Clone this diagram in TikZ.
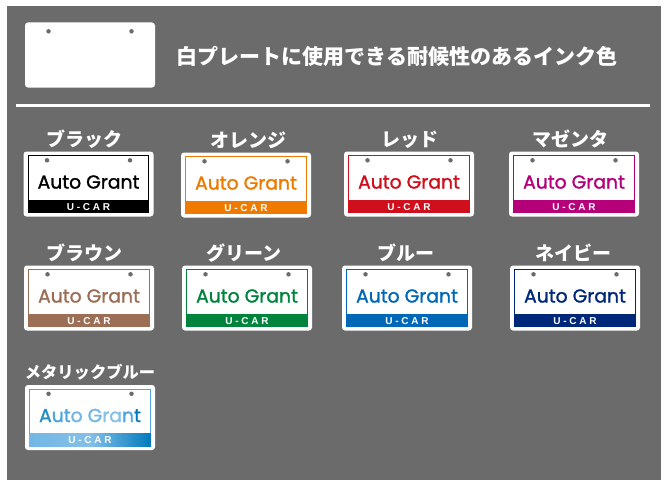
\documentclass[tikz,border=0pt]{standalone}
\usepackage{fontspec}
\usetikzlibrary{positioning}
\setmainfont{Noto Sans CJK JP}
\newfontfamily\brandfont[FakeBold=1.3]{Poppins}
\newfontfamily\barfont[LetterSpace=28]{Liberation Sans}
\definecolor{panelgray}{HTML}{6B6B6B}
\definecolor{pblack}{HTML}{000000}
\definecolor{porange}{HTML}{EF7A00}
\definecolor{pred}{HTML}{D00F1D}
\definecolor{pmagenta}{HTML}{B5007A}
\definecolor{pbrown}{HTML}{9B6E55}
\definecolor{pgreen}{HTML}{00843D}
\definecolor{pblue}{HTML}{0068B7}
\definecolor{pnavy}{HTML}{00287A}
\definecolor{pmetal}{HTML}{4FA5DE}
\definecolor{pmetaldark}{HTML}{0079BC}
\tikzset{
	plate/.style={fill=white, rounded corners=3pt, minimum width=130pt, minimum height=65pt, inner sep=0pt},
	frame/.style={line width=1pt, fill=white, minimum width=120.5pt, minimum height=57pt, inner sep=0pt},
	bar/.style={minimum width=121.5pt, minimum height=13pt, inner sep=0pt, text=white, font=\barfont\bfseries\fontsize{10}{10}\selectfont},
	brand/.style={inner sep=0pt, font=\brandfont\fontsize{18.8}{20}\selectfont},
	hole/.style={circle, inner sep=0pt, minimum size=4.5pt, fill=panelgray},
	colname/.style={inner sep=0pt, text=white, font=\bfseries\fontsize{19}{19}\selectfont}
}
% name, x, y, colour, label, shift of label
\newcommand{\plate}[6]{
	\node[plate] (#1) at (#2,#3) {};
	\node[frame, draw=#4] (#1f) at (#1) {};
	\node[bar, fill=#4, anchor=south] (#1b) at ([yshift=-.5pt]#1f.south) {U-CAR};
	\node[brand, text=#4] (#1t) at ([yshift=2pt]#1.center) {Auto Grant};
	\node[hole] (#1l) at ([xshift=-41.5pt,yshift=-9pt]#1.north) {};
	\node[hole] (#1r) at ([xshift=41.5pt,yshift=-9pt]#1.north) {};
	\node[colname, above=3pt of #1, xshift=#6pt] (#1n) {#5};
}
\begin{document}
\begin{tikzpicture}[x=1pt, y=-1pt]
	\useasboundingbox (0,0) rectangle (666,487);
	\fill[white] (0,0) rectangle (666,487);
	\fill[panelgray] (6.7,6) rectangle (661,479.5);

	\node[plate] (blank) at (90,55) {};
	\node[hole] (blankl) at ([xshift=-41.5pt,yshift=-9pt]blank.north) {};
	\node[hole] (blankr) at ([xshift=41.5pt,yshift=-9pt]blank.north) {};
	\node[text=white, inner sep=0pt, font=\bfseries\fontsize{21}{21}\selectfont] (title) at (397,56) {白プレートに使用できる耐候性のあるインク色};

	\coordinate (rulel) at (16,105.5);
	\coordinate (ruler) at (650,105.5);
	\draw[white, line width=2.5pt] (rulel) -- (ruler);

	\plate{black}{88.5}{184}{pblack}{ブラック}{-4}
	\plate{orange}{246}{185}{porange}{オレンジ}{2}
	\plate{red}{409}{184}{pred}{レッド}{1}
	\plate{magenta}{574}{184}{pmagenta}{マゼンタ}{-3.5}

	\plate{brown}{89}{298}{pbrown}{ブラウン}{-5}
	\plate{green}{247}{298}{pgreen}{グリーン}{-3}
	\plate{blue}{407}{298}{pblue}{ブルー}{-1.5}
	\plate{navy}{575}{298}{pnavy}{ネイビー}{-2}

	% metallic one has shaded frame and bar
	\node[plate] (metal) at (90,417.5) {};
	\node[frame, draw=pmetal] (metalf) at (metal) {};
	\node[bar, left color=pmetal!80, right color=pmetaldark, middle color=pmetal!70, anchor=south] (metalb) at ([yshift=-.5pt]metalf.south) {U-CAR};
	\node[brand] (metalt) at ([yshift=2pt]metal.center) {\textcolor{pmetaldark!85}{A}\textcolor{pmetal}{ut}\textcolor{pmetal!80}{o G}\textcolor{pmetal!70}{ra}\textcolor{pmetal}{n}\textcolor{pmetaldark}{t}};
	\node[hole] (metall) at ([xshift=-41.5pt,yshift=-9pt]metal.north) {};
	\node[hole] (metalr) at ([xshift=41.5pt,yshift=-9pt]metal.north) {};
	\node[colname, font=\bfseries\fontsize{16.3}{17}\selectfont, above=4pt of metal] (metaln) {メタリックブルー};
\end{tikzpicture}
\end{document}
